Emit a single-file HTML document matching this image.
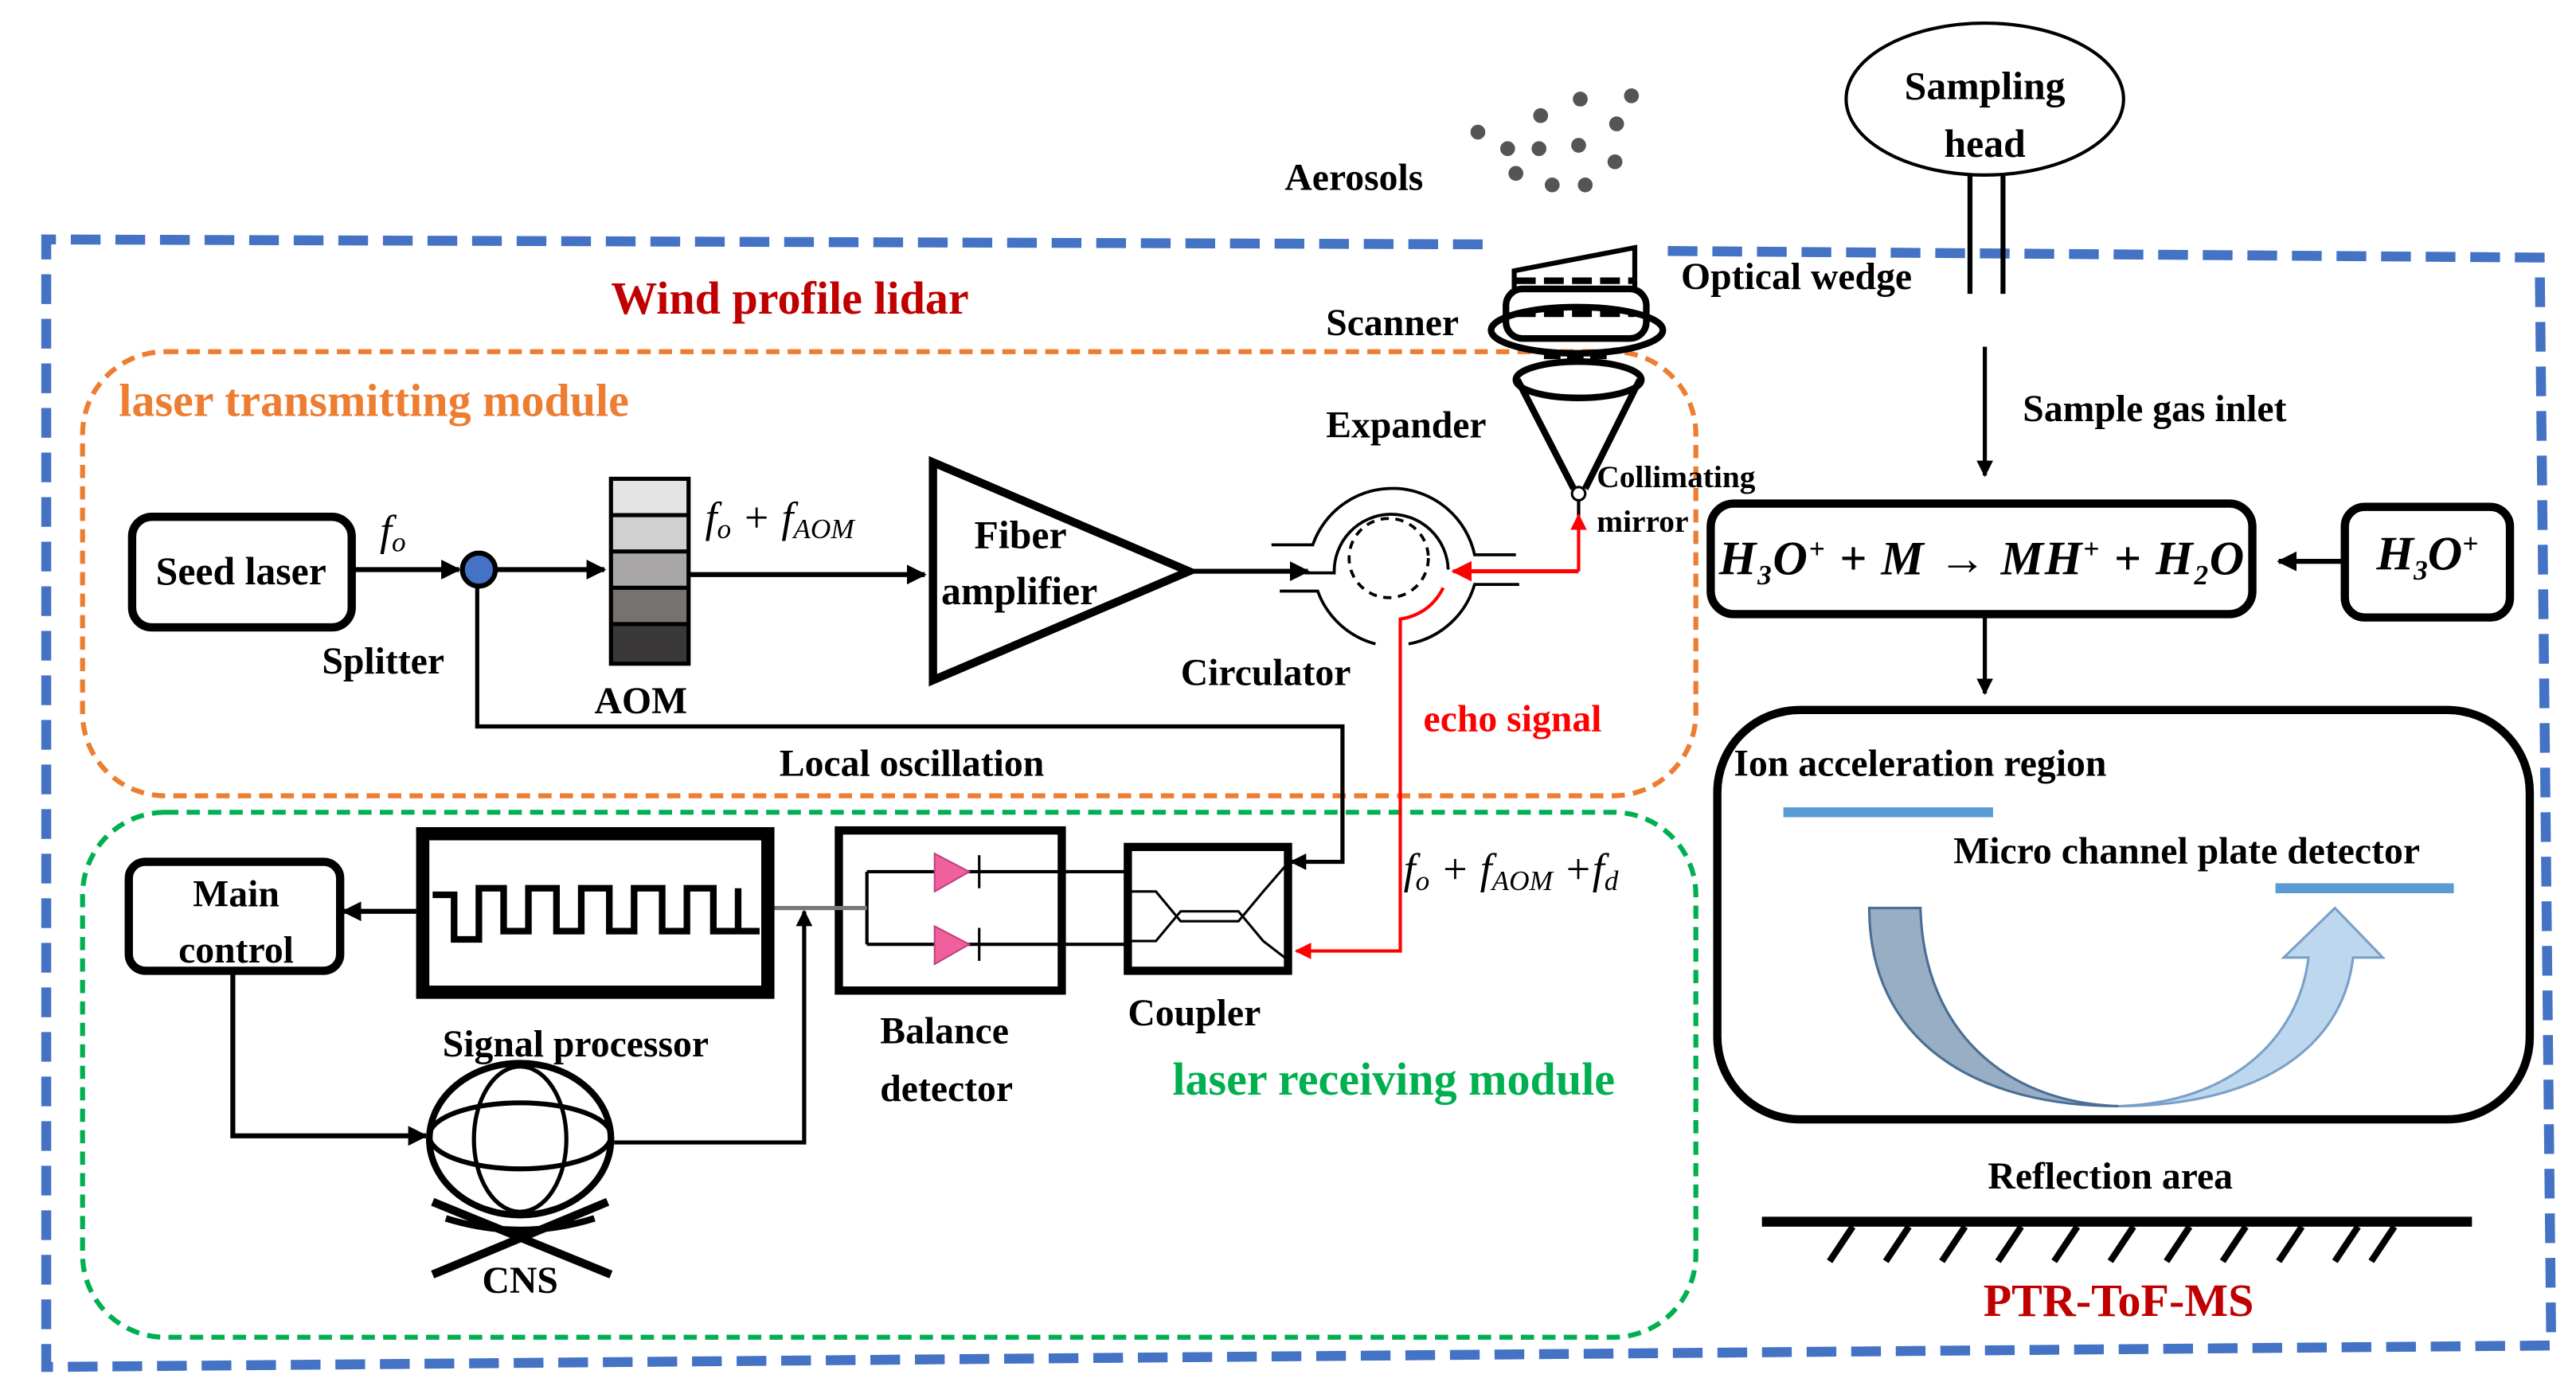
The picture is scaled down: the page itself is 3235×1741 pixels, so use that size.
<!DOCTYPE html>
<html><head><meta charset="utf-8"><style>
html,body{margin:0;padding:0;background:#fff}
svg{display:block}
text{font-family:"Liberation Serif",serif;font-weight:bold;fill:#000}
.it{font-style:italic;font-weight:normal}
</style></head><body>
<svg width="3235" height="1741" viewBox="0 0 1560 839.5" xmlns="http://www.w3.org/2000/svg">
<defs>
<marker id="a" viewBox="0 0 10 10" refX="9" refY="5" markerWidth="4" markerHeight="4" orient="auto"><path d="M0,0L10,5L0,10z" fill="#000"/></marker>
<marker id="r" viewBox="0 0 10 10" refX="9" refY="5" markerWidth="5" markerHeight="5" orient="auto"><path d="M0,0L10,5L0,10z" fill="#f00"/></marker>
</defs>
<path d="M1010,152 L1538,156 L1545,815 L28,828 L28,145 L905,148" fill="none" stroke="#4472c4" stroke-width="6" stroke-dasharray="18,9"/>
<rect x="50" y="213" width="977" height="269" rx="50" fill="none" stroke="#ed7d31" stroke-width="3" stroke-dasharray="8,5"/>
<rect x="50" y="492" width="977" height="318" rx="50" fill="none" stroke="#00b050" stroke-width="3" stroke-dasharray="8,5"/>
<text x="370" y="190" font-size="28" style="fill:#c00000">Wind profile lidar</text>
<text x="72" y="252" font-size="28" style="fill:#ed7d31">laser transmitting module</text>
<text x="710" y="663" font-size="28" style="fill:#00b050">laser receiving module</text>
<text x="778" y="115" font-size="23">Aerosols</text>
<g fill="#555">
<circle cx="895" cy="80" r="4.5"/><circle cx="933" cy="70" r="4.5"/><circle cx="957" cy="60" r="4.5"/><circle cx="988" cy="58" r="4.5"/>
<circle cx="913" cy="90" r="4.5"/><circle cx="932" cy="90" r="4.5"/><circle cx="956" cy="88" r="4.5"/><circle cx="979" cy="75" r="4.5"/>
<circle cx="918" cy="105" r="4.5"/><circle cx="940" cy="112" r="4.5"/><circle cx="960" cy="112" r="4.5"/><circle cx="978" cy="98" r="4.5"/>
</g>
<ellipse cx="1202" cy="60" rx="84" ry="46" fill="none" stroke="#000" stroke-width="2"/>
<text x="1202" y="60" font-size="24" text-anchor="middle">Sampling</text>
<text x="1202" y="95" font-size="24" text-anchor="middle">head</text>
<line x1="1193" y1="106" x2="1193" y2="178" stroke="#000" stroke-width="3"/>
<line x1="1213" y1="106" x2="1213" y2="178" stroke="#000" stroke-width="3"/>
<text x="1018" y="175" font-size="23">Optical  wedge</text>
<path d="M917,164 L990,150 L990,175 L917,175 Z" fill="none" stroke="#000" stroke-width="3"/>
<rect x="912" y="175" width="85" height="30" rx="10" fill="none" stroke="#000" stroke-width="4"/>
<line x1="918" y1="170" x2="990" y2="170" stroke="#000" stroke-width="4" stroke-dasharray="12,5"/>
<line x1="918" y1="190" x2="990" y2="190" stroke="#000" stroke-width="4" stroke-dasharray="12,5"/>
<ellipse cx="955" cy="200" rx="52" ry="14" fill="none" stroke="#000" stroke-width="4"/>
<line x1="935" y1="215" x2="975" y2="215" stroke="#000" stroke-width="5" stroke-dasharray="10,4"/>
<text x="803" y="203" font-size="23">Scanner</text>
<ellipse cx="956" cy="230" rx="38" ry="11" fill="none" stroke="#000" stroke-width="4"/>
<line x1="919" y1="230" x2="953" y2="296" stroke="#000" stroke-width="4"/>
<line x1="993" y1="230" x2="960" y2="296" stroke="#000" stroke-width="4"/>
<circle cx="956" cy="299" r="4" fill="#fff" stroke="#000" stroke-width="1.5"/>
<line x1="956" y1="303" x2="956" y2="315" stroke="#000" stroke-width="2"/>
<text x="803" y="265" font-size="23">Expander</text>
<text x="967" y="295" font-size="19">Collimating</text>
<text x="967" y="322" font-size="19">mirror</text>
<line x1="1202" y1="210" x2="1202" y2="288" stroke="#000" stroke-width="2.5" marker-end="url(#a)"/>
<text x="1225" y="255" font-size="23">Sample  gas inlet</text>
<rect x="1036" y="305" width="328" height="67" rx="14" fill="none" stroke="#000" stroke-width="5"/>
<text x="1200" y="348" font-size="29" text-anchor="middle" class="it" style="font-weight:bold" textLength="318">H<tspan font-size="17" dy="6">3</tspan><tspan dy="-6">O</tspan><tspan font-size="17" dy="-10">+</tspan><tspan dy="10"> + M → MH</tspan><tspan font-size="17" dy="-10">+</tspan><tspan dy="10"> + H</tspan><tspan font-size="17" dy="6">2</tspan><tspan dy="-6">O</tspan></text>
<rect x="1420" y="307" width="100" height="67" rx="12" fill="none" stroke="#000" stroke-width="5"/>
<text x="1470" y="345" font-size="29" text-anchor="middle" class="it" style="font-weight:bold">H<tspan font-size="17" dy="6">3</tspan><tspan dy="-6">O</tspan><tspan font-size="17" dy="-10">+</tspan></text>
<line x1="1418" y1="340" x2="1380" y2="340" stroke="#000" stroke-width="3" marker-end="url(#a)"/>
<line x1="1202" y1="374" x2="1202" y2="420" stroke="#000" stroke-width="2.5" marker-end="url(#a)"/>
<rect x="1040" y="430" width="492" height="248" rx="50" fill="none" stroke="#000" stroke-width="5"/>
<text x="1050" y="470" font-size="23">Ion acceleration  region</text>
<line x1="1080" y1="492" x2="1207" y2="492" stroke="#5b9bd5" stroke-width="6"/>
<text x="1183" y="523" font-size="23">Micro channel plate detector</text>
<line x1="1378" y1="538" x2="1486" y2="538" stroke="#5b9bd5" stroke-width="6"/>
<path d="M1132,550 L1163,550 C1165,625 1215,668 1283,670 C1195,670 1132,630 1132,550 Z" fill="#97aec4" stroke="#4a6e94" stroke-width="1.5"/>
<path d="M1283,670 C1350,668 1392,630 1398,580 L1383,580 L1414,550 L1443,580 L1425,580 C1418,640 1360,670 1283,670 Z" fill="#bdd7ee" stroke="#7aa0c8" stroke-width="1.5"/>
<text x="1278" y="720" font-size="23" text-anchor="middle">Reflection area</text>
<line x1="1067" y1="740" x2="1497" y2="740" stroke="#000" stroke-width="6"/>
<g stroke="#000" stroke-width="4">
<line x1="1108" y1="764" x2="1122" y2="743"/><line x1="1142" y1="764" x2="1156" y2="743"/><line x1="1176" y1="764" x2="1190" y2="743"/><line x1="1210" y1="764" x2="1224" y2="743"/><line x1="1244" y1="764" x2="1258" y2="743"/><line x1="1278" y1="764" x2="1292" y2="743"/><line x1="1312" y1="764" x2="1326" y2="743"/><line x1="1346" y1="764" x2="1360" y2="743"/><line x1="1380" y1="764" x2="1394" y2="743"/><line x1="1414" y1="764" x2="1428" y2="743"/><line x1="1436" y1="764" x2="1450" y2="743"/>
</g>
<text x="1283" y="797" font-size="28" text-anchor="middle" style="fill:#c00000">PTR-ToF-MS</text>
<rect x="80" y="313" width="133" height="67" rx="12" fill="none" stroke="#000" stroke-width="5"/>
<text x="146" y="354" font-size="24" text-anchor="middle">Seed laser</text>
<text x="230" y="330" font-size="26" class="it">f<tspan font-size="17" dy="4">o</tspan></text>
<line x1="213" y1="345" x2="278" y2="345" stroke="#000" stroke-width="3" marker-end="url(#a)"/>
<circle cx="290" cy="345" r="10" fill="#4472c4" stroke="#000" stroke-width="3"/>
<line x1="300" y1="345" x2="366" y2="345" stroke="#000" stroke-width="3" marker-end="url(#a)"/>
<text x="195" y="408" font-size="23">Splitter</text>
<rect x="370" y="290" width="47" height="22" fill="#e4e4e4"/><rect x="370" y="312" width="47" height="22" fill="#d0d0d0"/><rect x="370" y="334" width="47" height="22" fill="#a8a6a6"/><rect x="370" y="356" width="47" height="22" fill="#767270"/><rect x="370" y="378" width="47" height="24" fill="#3a3838"/>
<g stroke="#000" stroke-width="2.5" fill="none"><rect x="370" y="290" width="47" height="112"/><line x1="370" y1="312" x2="417" y2="312"/><line x1="370" y1="334" x2="417" y2="334"/><line x1="370" y1="356" x2="417" y2="356"/><line x1="370" y1="378" x2="417" y2="378"/></g>
<text x="360" y="432" font-size="23">AOM</text>
<text x="427" y="322" font-size="26" class="it">f<tspan font-size="17" dy="4">o</tspan><tspan dy="-4"> + f</tspan><tspan font-size="17" dy="4">AOM</tspan></text>
<line x1="417" y1="348" x2="560" y2="348" stroke="#000" stroke-width="3" marker-end="url(#a)"/>
<path d="M565,280 L565,412 L720,346 Z" fill="#fff" stroke="#000" stroke-width="5"/>
<text x="590" y="332" font-size="24">Fiber</text>
<text x="570" y="366" font-size="24">amplifier</text>
<line x1="720" y1="346" x2="792" y2="346" stroke="#000" stroke-width="3" marker-end="url(#a)"/>
<!-- circulator -->
<g fill="none" stroke="#000" stroke-width="1.8">
<path d="M770,330 L795,330 A51,51 0 0 1 893,336 L918,336"/>
<path d="M775,358 L798,358 A51,51 0 0 0 833,390"/>
<path d="M920,354 L893,354 A51,51 0 0 1 853,390"/>
<path d="M790,347 L808,347 A34,34 0 1 1 877,345"/>
<circle cx="841" cy="338" r="24" stroke-dasharray="5,4"/>
</g>
<text x="715" y="415" font-size="23">Circulator</text>
<path d="M956,346 L956,312" stroke="#f00" stroke-width="2" fill="none" marker-end="url(#r)"/>
<path d="M956,346 L880,346" stroke="#f00" stroke-width="2.5" fill="none" marker-end="url(#r)"/>
<path d="M874,356 Q866,372 848,375 L848,576 L785,576" stroke="#f00" stroke-width="2" fill="none" marker-end="url(#r)"/>
<text x="862" y="443" font-size="23" style="fill:#f00">echo signal</text>
<path d="M289,355 L289,440 L813,440 L813,522 L782,522" stroke="#000" stroke-width="2.5" fill="none" marker-end="url(#a)"/>
<text x="472" y="470" font-size="23">Local oscillation</text>
<text x="850" y="535" font-size="26" class="it">f<tspan font-size="17" dy="4">o</tspan><tspan dy="-4"> + f</tspan><tspan font-size="17" dy="4">AOM</tspan><tspan dy="-4"> +f</tspan><tspan font-size="17" dy="4">d</tspan></text>
<rect x="683" y="513" width="97" height="75" fill="none" stroke="#000" stroke-width="5"/>
<path d="M683,540 L700,540 L715,558 L750,558 L765,540 L778,525 M683,570 L700,570 L715,552 L750,552 L765,570 L778,580" fill="none" stroke="#000" stroke-width="1.5"/>
<text x="683" y="621" font-size="23">Coupler</text>
<rect x="508" y="503" width="135" height="97" fill="none" stroke="#000" stroke-width="5"/>
<path d="M525,528 L683,528 M525,572 L683,572 M525,528 L525,572" fill="none" stroke="#000" stroke-width="2"/>
<path d="M566,517 L566,540 L587,528 Z M566,561 L566,584 L587,572 Z" fill="#f0609c" stroke="#c04080" stroke-width="1"/>
<line x1="593" y1="518" x2="593" y2="538" stroke="#000" stroke-width="1.5"/><line x1="593" y1="562" x2="593" y2="582" stroke="#000" stroke-width="1.5"/>
<text x="533" y="632" font-size="23">Balance</text>
<text x="533" y="667" font-size="23">detector</text>
<line x1="468" y1="550" x2="525" y2="550" stroke="#777" stroke-width="2.5"/>
<rect x="256" y="505" width="209" height="96" fill="none" stroke="#000" stroke-width="8"/>
<path d="M262,542 L275,542 L275,569 L290,569 L290,538 L305,538 L305,564 L320,564 L320,538 L337,538 L337,564 L352,564 L352,538 L369,538 L369,564 L384,564 L384,538 L401,538 L401,564 L416,564 L416,538 L432,538 L432,564 L447,564 L447,538 L447,564 L460,564" fill="none" stroke="#000" stroke-width="4"/>
<text x="268" y="640" font-size="23">Signal processor</text>
<line x1="252" y1="552" x2="208" y2="552" stroke="#000" stroke-width="3" marker-end="url(#a)"/>
<rect x="78" y="522" width="128" height="66" rx="10" fill="none" stroke="#000" stroke-width="5"/>
<text x="143" y="549" font-size="23" text-anchor="middle">Main</text>
<text x="143" y="583" font-size="23" text-anchor="middle">control</text>
<path d="M141,588 L141,688 L258,688" stroke="#000" stroke-width="3" fill="none" marker-end="url(#a)"/>
<g fill="none" stroke="#000">
<ellipse cx="315" cy="690" rx="55" ry="46" stroke-width="4"/>
<ellipse cx="315" cy="690" rx="28" ry="44" stroke-width="2.5"/>
<ellipse cx="315" cy="688" rx="55" ry="20" stroke-width="3"/>
<path d="M262,728 L370,772 M368,728 L262,772" stroke-width="5"/>
<path d="M270,738 Q315,752 360,738" stroke-width="4"/>
</g>
<text x="315" y="783" font-size="23" text-anchor="middle">CNS</text>
<path d="M372,692 L487,692 L487,552" stroke="#000" stroke-width="2.5" fill="none" marker-end="url(#a)"/>
</svg>
</body></html>
